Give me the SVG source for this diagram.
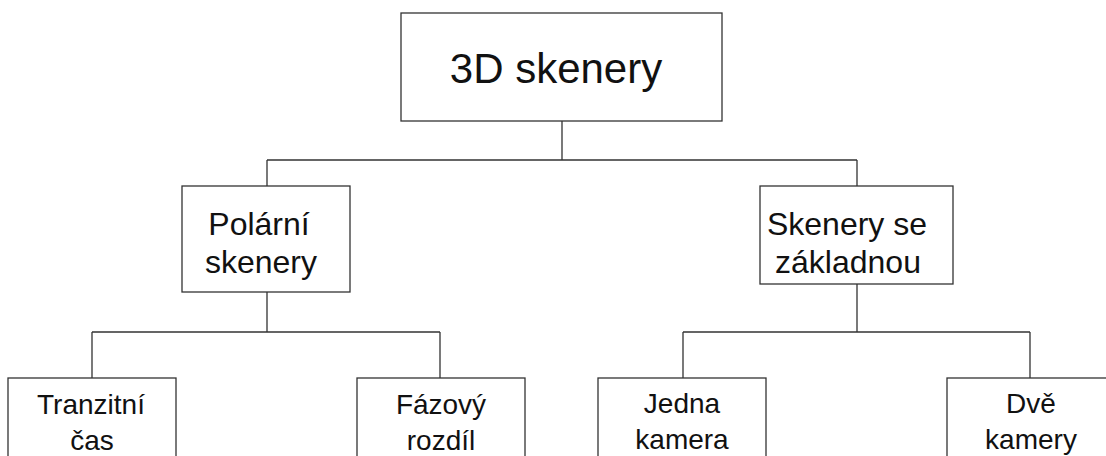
<svg xmlns="http://www.w3.org/2000/svg" width="1106" height="456" viewBox="0 0 1106 456">
<style>
.n{fill:#fff;stroke:#333;stroke-width:1.3}
.c path{fill:none;stroke:#333;stroke-width:1.3}
text{font-family:"Liberation Sans",Arial,sans-serif;fill:#111;text-anchor:middle}
.t0{font-size:42px}
.t1{font-size:32px}
.t2{font-size:28px}
</style>
<rect width="1106" height="456" fill="#fff"/>
<g class="c" id="connectors">
<path d="M562 121V160M267 160H857M267 160V186M857 160V186"/>
<path d="M267 292V332M92 332H440M92 332V378M440 332V378"/>
<path d="M857 284V332M683 332H1030M683 332V378M1030 332V378"/>
</g>
<g id="root"><rect class="n" x="401" y="13" width="321" height="108"/><text class="t0" x="556" y="83">3D skenery</text></g>
<g id="polarni"><rect class="n" x="182" y="186" width="168" height="106"/><text class="t1" x="259" y="235">Polární</text><text class="t1" x="261" y="273">skenery</text></g>
<g id="zakladna"><rect class="n" x="760" y="186" width="193" height="98"/><text class="t1" x="847" y="235">Skenery se</text><text class="t1" x="848" y="273">základnou</text></g>
<g id="tranzitni"><rect class="n" x="8" y="378" width="168" height="100"/><text class="t2" x="91" y="414">Tranzitní</text><text class="t2" x="92" y="450">čas</text></g>
<g id="fazovy"><rect class="n" x="357" y="378" width="168" height="100"/><text class="t2" x="441" y="414">Fázový</text><text class="t2" x="441" y="450">rozdíl</text></g>
<g id="jedna"><rect class="n" x="598" y="378" width="168" height="100"/><text class="t2" x="682" y="413">Jedna</text><text class="t2" x="682" y="449">kamera</text></g>
<g id="dve"><rect class="n" x="947" y="378" width="168" height="100"/><text class="t2" x="1031" y="413">Dvě</text><text class="t2" x="1031" y="449">kamery</text></g>
</svg>
